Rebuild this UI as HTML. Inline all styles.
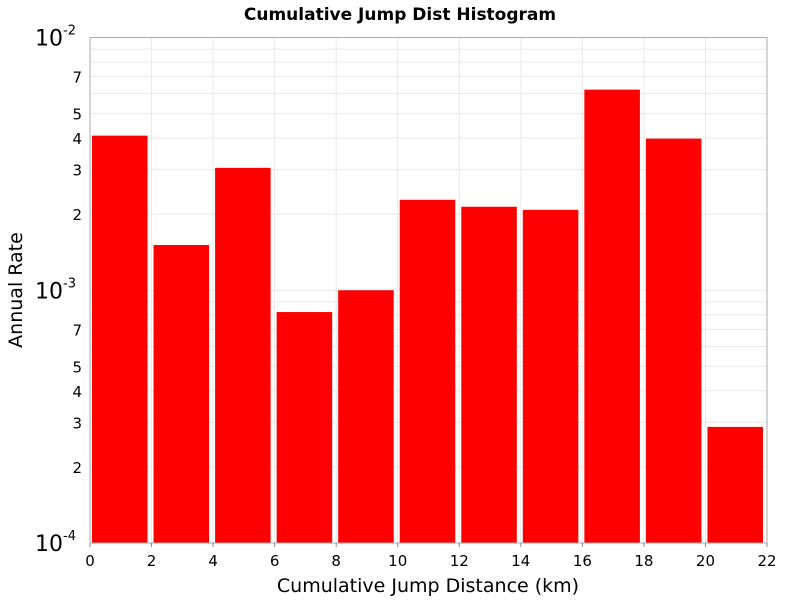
<!DOCTYPE html>
<html><head><meta charset="utf-8"><style>
body{margin:0;background:#fff;font-family:"DejaVu Sans","Liberation Sans",sans-serif}
</style></head><body>
<svg id="chart" width="800" height="600" xmlns="http://www.w3.org/2000/svg">
<text x="400" y="20" text-anchor="middle" font-size="17" font-weight="bold">Cumulative Jump Dist Histogram</text>
<g id="grid"></g>
<g id="bars"></g>
<rect x="90" y="37.5" width="677" height="505.5" fill="none" stroke="#aaa"/>
<g id="axes"></g>
<text x="428" y="592" text-anchor="middle" font-size="19">Cumulative Jump Distance (km)</text>
<text transform="translate(22,290) rotate(-90)" text-anchor="middle" font-size="19">Annual Rate</text>
</svg>
<script>
const binStarts=[0,2,4,6,8,10,12,14,16,18,20];
const binWidth=2;
const rates=[0.00409,0.00151,0.00305,0.00082,0.00100,0.00228,0.00214,0.00208,0.00622,0.00398,0.000288];
const xTicks=[0,2,4,6,8,10,12,14,16,18,20,22];
const yMinorLabels=[2,3,4,5,7];
const yDecades=[-4,-3,-2];
const NS="http://www.w3.org/2000/svg";
const L=90,R=767,T=37.5,B=543;
const x=v=>L+(v-0)/(22-0)*(R-L);
const y=v=>B-(Math.log10(v)+4)/2*(B-T);
function mk(tag,attrs,parent){const e=document.createElementNS(NS,tag);for(const k in attrs)e.setAttribute(k,attrs[k]);parent.appendChild(e);return e;}
const grid=document.getElementById('grid'),bars=document.getElementById('bars'),axes=document.getElementById('axes');
xTicks.forEach(t=>{
  const g=mk('line',{x1:x(t),x2:x(t),y1:T,y2:B,stroke:'#e8e8e8'},grid);
  
  
  const tk=mk('line',{x1:x(t),x2:x(t),y1:B,y2:B+4,stroke:'#888'},axes);
  
  
  const tx=mk('text',{x:x(t),y:B+23,'text-anchor':'middle','font-size':'15'},axes);
  tx.textContent=t;
  
  
});
[-4,-3].forEach(d=>{for(let m=1;m<=9;m++){const v=m*Math.pow(10,d);
  const g=mk('line',{x1:L,x2:R,y1:y(v),y2:y(v),stroke:'#e8e8e8'},grid);
  
  
  if(yMinorLabels.includes(m)){const tx=mk('text',{x:82,y:y(v)+6,'text-anchor':'end','font-size':'15'},axes);tx.textContent=m;
  
  }
}});
yDecades.forEach(d=>{
  const tx=mk('text',{x:76,y:y(Math.pow(10,d))+8,'text-anchor':'end','font-size':'22'},axes);
  tx.innerHTML='10<tspan font-size="13" dy="-11">'+d+'</tspan>';
  
  
});
binStarts.forEach((s,i)=>{
  const x0=x(s)+2,x1=x(s+binWidth)-4,yt=y(rates[i]);
  const r=mk('rect',{x:x0,y:yt,width:x1-x0,height:B-yt,fill:'#ff0000'},bars);
  
  
});
</script>
</body></html>
